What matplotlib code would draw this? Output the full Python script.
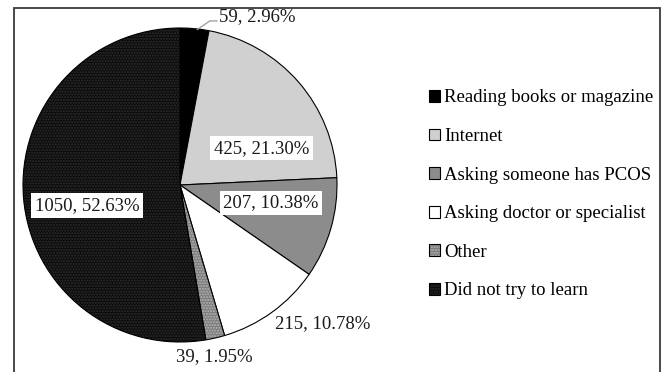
import matplotlib
matplotlib.use("Agg")
import matplotlib.pyplot as plt
from matplotlib.patches import Rectangle

categories = [
    "Reading books or magazine",
    "Internet",
    "Asking someone has PCOS",
    "Asking doctor or specialist",
    "Other",
    "Did not try to learn",
]
counts = [59, 425, 207, 215, 39, 1050]

face_colors = ["#000000", "#d0d0d0", "#8c8c8c", "#ffffff", "#7a7a7a", "#0c0c0c"]
hatches = [None, None, None, None, "......", "......"]
hatch_colors = ["k", "k", "k", "k", "#b8b8b8", "#2e2e2e"]

plt.rcParams["font.family"] = ["Liberation Serif", "DejaVu Serif"]

W, H = 667, 372
fig = plt.figure(figsize=(W / 100, H / 100), dpi=100)

# outer frame (open at the bottom edge of the image)
fig.add_artist(Rectangle((14 / W, -0.05), (660 - 14) / W, 1.05 - 8 / H,
                         transform=fig.transFigure, fill=False,
                         edgecolor="#3a3a3a", linewidth=1.3))

cx, cy, r = 180, 185, 157
ax = fig.add_axes([(cx - r) / W, (H - cy - r) / H, 2 * r / W, 2 * r / H])

wedges, _ = ax.pie(counts, startangle=90, counterclock=False, radius=1,
                   colors=face_colors,
                   wedgeprops=dict(edgecolor="black", linewidth=0.8))
ax.set_xlim(-1, 1)
ax.set_ylim(-1, 1)
ax.set_axis_off()
for w, h, hc in zip(wedges, hatches, hatch_colors):
    if h:
        w.set_hatch(h)
        w._hatch_color = matplotlib.colors.to_rgba(hc)

total = sum(counts)
labels = [f"{c}, {100 * c / total:.2f}%" for c in counts]

# label anchors in pie units (radius = 1) and whether they sit in a white box
label_pos = [(0.49, 1.07), (0.52, 0.235), (0.58, -0.115), (0.91, -0.885),
             (0.22, -1.095), (-0.59, -0.13)]
boxed = [False, True, True, False, False, True]

for txt, (x, y), b in zip(labels, label_pos, boxed):
    kw = dict(ha="center", va="center", fontsize=13.5, color="#1a1a1a")
    if b:
        kw["bbox"] = dict(boxstyle="square,pad=0.2", facecolor="white",
                          edgecolor="none")
    ax.text(x, y, txt, **kw)

# leader line for the small top slice
ax.plot([0.11, 0.19, 0.235], [0.99, 1.045, 1.045], color="#999999",
        linewidth=0.9, clip_on=False)

fig.legend(wedges, categories, loc="upper left",
           bbox_to_anchor=(421 / W, 1 - 82 / H), frameon=False,
           fontsize=13.5, handlelength=0.6, handleheight=0.6,
           handletextpad=0.22, labelspacing=1.15, borderaxespad=0)

fig.savefig("out.png", dpi=100)
